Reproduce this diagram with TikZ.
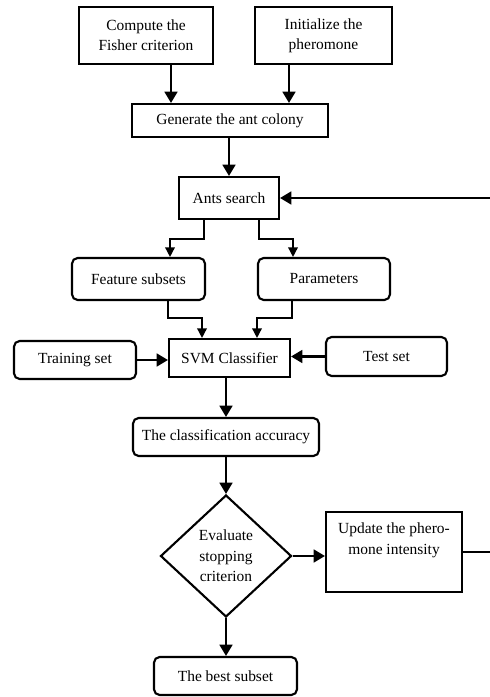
\documentclass[tikz,border=0pt]{standalone}
\usepackage{fontspec}
\setmainfont{Liberation Serif}
\usetikzlibrary{shapes.geometric, arrows.meta}

\begin{document}
\begin{tikzpicture}[
  box/.style={draw, line width=1.5pt, inner sep=2pt, align=center, font=\fontsize{11}{14.5}\selectfont},
  rbox/.style={box, rounded corners=4pt},
  decide/.style={box, diamond, inner sep=0pt},
  arr/.style={-{Triangle[length=2.8mm, width=3.2mm]}, line width=1.5pt},
  thinarr/.style={-{Triangle[length=2.4mm, width=2.4mm]}, line width=1.1pt},
]
  \path[use as bounding box, fill=white] (0,0) rectangle (12.225,17.425);

  % start
  \node[box, minimum width=3.35cm, minimum height=1.425cm] (fisher) at (3.65,16.5375) {Compute the\\Fisher criterion};
  \node[box, minimum width=3.425cm, minimum height=1.425cm] (init) at (8.0875,16.5375) {Initialize the\\pheromone};
  \node[box, minimum width=4.9cm, minimum height=0.825cm] (colony) at (5.75,14.4125) {Generate the ant colony};
  \draw[arr] ([xshift=0.625cm]fisher.south) -- ([xshift=0.625cm]fisher.south |- colony.north);
  \draw[arr] ([xshift=-0.8625cm]init.south) -- ([xshift=-0.8625cm]init.south |- colony.north);

  \node[box, minimum width=2.5cm, minimum height=1.05cm] (ants) at (5.725,12.475) {Ants search};
  \draw[arr] (ants.north |- colony.south) -- (ants.north);

  % search results
  \node[rbox, minimum width=3.325cm, minimum height=1.05cm] (feat) at (3.4625,10.45) {Feature subsets};
  \node[rbox, minimum width=3.3cm, minimum height=1.05cm] (param) at (8.1,10.45) {Parameters};
  \draw[thinarr] ([xshift=-0.625cm]ants.south) -- ++(0,-0.475) -| ([xshift=0.7875cm]feat.north);
  \draw[thinarr] ([xshift=0.75cm]ants.south) -- ++(0,-0.475) -| ([xshift=-0.775cm]param.north);

  % classifier
  \node[box, minimum width=3.025cm, minimum height=0.95cm] (svm) at (5.7375,8.475) {SVM Classifier};
  \node[rbox, minimum width=3.05cm, minimum height=0.95cm] (train) at (1.875,8.425) {Training set};
  \node[rbox, minimum width=3.025cm, minimum height=0.975cm] (test) at (9.6625,8.5125) {Test set};
  \draw[thinarr] ([xshift=0.7375cm]feat.south) -- ++(0,-0.425) -| ([xshift=-0.6875cm]svm.north);
  \draw[thinarr] ([xshift=-0.8cm]param.south) -- ++(0,-0.425) -| ([xshift=0.6875cm]svm.north);
  \draw[arr] (train.east) -- (train.east -| svm.west);
  \draw[arr] (test.west) -- (test.west -| svm.east);

  \node[rbox, minimum width=4.65cm, minimum height=0.95cm] (acc) at (5.65,6.5) {The classification accuracy};
  \draw[arr] (acc.north |- svm.south) -- (acc.north);

  % stopping test and update loop
  \node[decide, minimum width=3.275cm, minimum height=3.05cm] (stop) at (5.65,3.525) {Evaluate\\stopping\\criterion};
  \draw[arr] (acc.south) -- (stop.north);

  \node[box, minimum width=3.4cm, minimum height=2cm] (update) at (9.85,3.625) {Update the phero-\\mone intensity\\\strut};
  \draw[arr] (stop.east) -- (stop.east -| update.west);
  \coordinate (back) at (12.4,12.475);
  \draw[arr] (update.east) -| (back) -- (ants.east);

  \node[rbox, minimum width=3.575cm, minimum height=0.95cm] (best) at (5.6375,0.525) {The best subset};
  \draw[arr] (stop.south) -- (stop.south |- best.north);
\end{tikzpicture}
\end{document}
